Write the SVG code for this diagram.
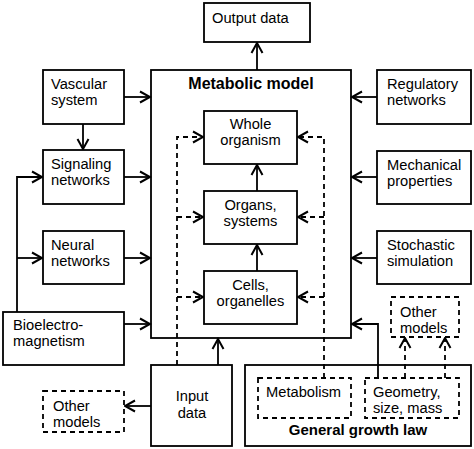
<svg xmlns="http://www.w3.org/2000/svg" width="474" height="449" viewBox="0 0 474 449">
<defs>
<style>
.b{fill:#fff;stroke:#000;stroke-width:1.8}
.d{fill:#fff;stroke:#000;stroke-width:1.8;stroke-dasharray:5,4}
.t{font-family:"Liberation Sans",Arial,sans-serif;font-size:14.7px;fill:#000}
.c{text-anchor:middle}
.h{font-family:"Liberation Sans",Arial,sans-serif;font-weight:bold;fill:#000;text-anchor:middle}
.l{fill:none;stroke:#000;stroke-width:1.8}
.ld{fill:none;stroke:#000;stroke-width:1.8;stroke-dasharray:5,4}
</style>
<marker id="a" markerUnits="userSpaceOnUse" viewBox="-12 -7 14 14" refX="0" refY="0" markerWidth="14" markerHeight="14" orient="auto">
<path d="M-10,-5.5 L0,0 L-10,5.5" fill="none" stroke="#000" stroke-width="2"/>
</marker>
</defs>
<rect width="474" height="449" fill="#fff"/>

<g id="connectors">
<path class="l" d="M257,70 V43" marker-end="url(#a)"/>
<path class="l" d="M257,191 V165" marker-end="url(#a)"/>
<path class="l" d="M257,271 V245" marker-end="url(#a)"/>
<path class="l" d="M124,97 H150" marker-end="url(#a)"/>
<path class="l" d="M83,124 V149" marker-end="url(#a)"/>
<path class="l" d="M124,177 H150" marker-end="url(#a)"/>
<path class="l" d="M124,258 H150" marker-end="url(#a)"/>
<path class="l" d="M124,324 H150" marker-end="url(#a)"/>
<path class="l" d="M17,312 V177 H42" marker-end="url(#a)"/>
<path class="l" d="M17,258 H42" marker-end="url(#a)"/>
<path class="l" d="M377,97 H352" marker-end="url(#a)"/>
<path class="l" d="M377,177 H352" marker-end="url(#a)"/>
<path class="l" d="M377,258 H352" marker-end="url(#a)"/>
<path class="l" d="M378,378 V324 H352" marker-end="url(#a)"/>
<path class="l" d="M218,365 V339" marker-end="url(#a)"/>
<path class="l" d="M151,406 H125" marker-end="url(#a)"/>
<path class="ld" d="M177,365 V137 H203" marker-end="url(#a)"/>
<path class="ld" d="M177,217 H203" marker-end="url(#a)"/>
<path class="ld" d="M177,297 H203" marker-end="url(#a)"/>
<path class="ld" d="M324,378 V137 H298" marker-end="url(#a)"/>
<path class="ld" d="M324,217 H298" marker-end="url(#a)"/>
<path class="ld" d="M324,297 H298" marker-end="url(#a)"/>
<path class="ld" d="M405,378 V338" marker-end="url(#a)"/>
<path class="ld" d="M445,378 V338" marker-end="url(#a)"/>
</g>

<g id="output-data">
<rect class="b" x="204" y="3" width="106" height="39"/>
<text class="t" x="212" y="23">Output data</text>
</g>

<g id="metabolic-model">
<rect class="b" x="151" y="70" width="200" height="268" fill="none" style="fill:none"/>
<text class="h" x="251" y="89" font-size="16">Metabolic model</text>
</g>

<g id="whole-organism">
<rect class="b" x="204" y="111" width="93" height="53"/>
<text class="t c" x="250.5" y="129">Whole</text>
<text class="t c" x="250.5" y="145">organism</text>
</g>

<g id="organs-systems">
<rect class="b" x="204" y="191" width="93" height="53"/>
<text class="t c" x="250.5" y="210">Organs,</text>
<text class="t c" x="250.5" y="226">systems</text>
</g>

<g id="cells-organelles">
<rect class="b" x="204" y="271" width="93" height="53"/>
<text class="t c" x="250.5" y="290">Cells,</text>
<text class="t c" x="250.5" y="306">organelles</text>
</g>

<g id="vascular-system">
<rect class="b" x="43" y="70" width="81" height="54"/>
<text class="t" x="51" y="89">Vascular</text>
<text class="t" x="51" y="105">system</text>
</g>

<g id="signaling-networks">
<rect class="b" x="43" y="150" width="81" height="54"/>
<text class="t" x="51" y="169">Signaling</text>
<text class="t" x="51" y="185">networks</text>
</g>

<g id="neural-networks">
<rect class="b" x="43" y="231" width="81" height="53"/>
<text class="t" x="51" y="250">Neural</text>
<text class="t" x="51" y="266">networks</text>
</g>

<g id="bioelectromagnetism">
<rect class="b" x="3" y="312" width="121" height="53"/>
<text class="t" x="13" y="330">Bioelectro-</text>
<text class="t" x="13" y="346">magnetism</text>
</g>

<g id="input-data">
<rect class="b" x="151" y="365" width="81" height="81"/>
<text class="t c" x="192" y="401">Input</text>
<text class="t c" x="192" y="418">data</text>
</g>

<g id="other-models-left">
<rect class="d" x="43" y="391" width="81" height="41"/>
<text class="t" x="53" y="411">Other</text>
<text class="t" x="53" y="427">models</text>
</g>

<g id="regulatory-networks">
<rect class="b" x="377" y="70" width="94" height="54"/>
<text class="t" x="387" y="89">Regulatory</text>
<text class="t" x="387" y="105">networks</text>
</g>

<g id="mechanical-properties">
<rect class="b" x="377" y="151" width="94" height="53"/>
<text class="t" x="387" y="170">Mechanical</text>
<text class="t" x="387" y="186">properties</text>
</g>

<g id="stochastic-simulation">
<rect class="b" x="377" y="231" width="94" height="53"/>
<text class="t" x="387" y="250">Stochastic</text>
<text class="t" x="387" y="266">simulation</text>
</g>

<g id="other-models-right">
<rect class="d" x="391" y="297" width="68" height="40"/>
<text class="t" x="400" y="317">Other</text>
<text class="t" x="400" y="333">models</text>
</g>

<g id="general-growth-law">
<rect class="b" x="245" y="365" width="226" height="81" style="fill:none"/>
<text class="h" x="358" y="435" font-size="15">General growth law</text>
</g>

<g id="metabolism">
<rect class="d" x="258" y="378" width="93" height="40"/>
<text class="t" x="266" y="397">Metabolism</text>
</g>

<g id="geometry">
<rect class="d" x="365" y="378" width="94" height="40"/>
<text class="t" x="373" y="397">Geometry,</text>
<text class="t" x="373" y="413">size, mass</text>
</g>
</svg>
